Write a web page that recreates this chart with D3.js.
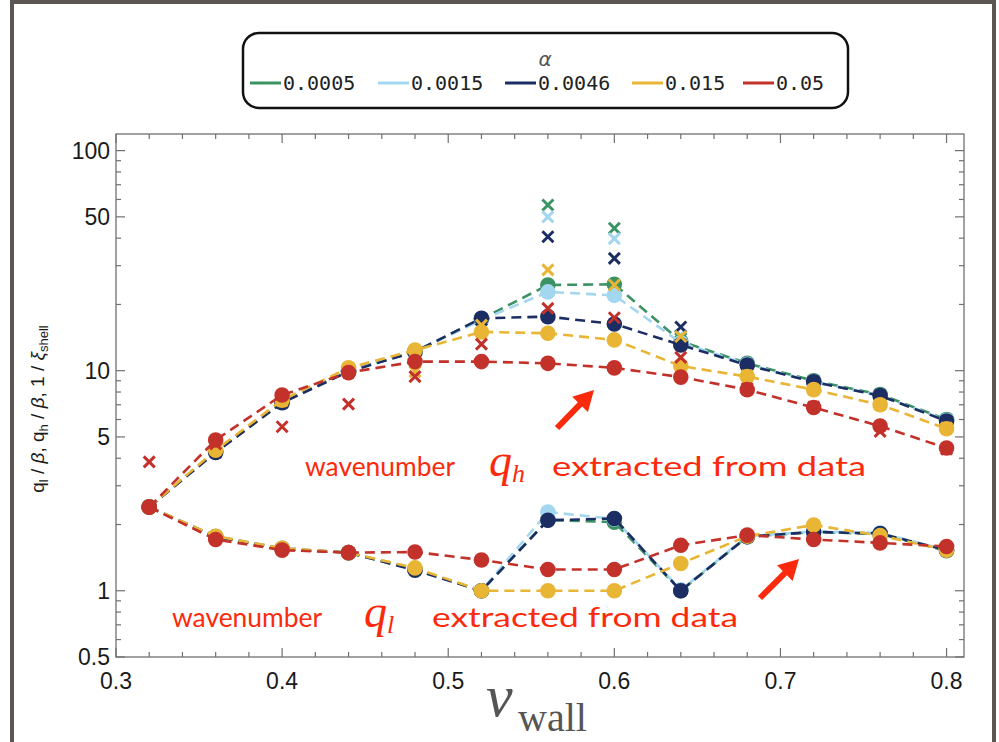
<!DOCTYPE html>
<html>
<head>
<meta charset="utf-8">
<script src="https://cdn.jsdelivr.net/npm/d3@7"></script>
<style>
  html, body { margin: 0; padding: 0; background: #fff; }
  svg { display: block; }
</style>
</head>
<body>
<script>
// v_wall samples
const vWall = [0.32, 0.36, 0.40, 0.44, 0.48, 0.52, 0.56, 0.60, 0.64, 0.68, 0.72, 0.76, 0.80];

const alphaLabels = ["0.0005", "0.0015", "0.0046", "0.015", "0.05"];
const alphaColors = ["#3b9263", "#a3d6ef", "#1b2d63", "#e9b534", "#c3312b"];

// q_h / beta (upper branch)
const qh0005 = [2.4, 4.3, 7.2, 10.0, 12.2, 17.2, 24.5, 24.7, 13.6, 10.8, 9.0, 7.8, 6.0];
const qh0015 = [2.4, 4.3, 7.2, 10.0, 12.2, 17.0, 22.8, 22.0, 13.4, 10.7, 8.9, 7.7, 5.95];
const qh0046 = [2.4, 4.25, 7.15, 9.9, 12.2, 17.3, 17.6, 16.3, 13.1, 10.6, 8.9, 7.7, 5.9];
const qh015 = [2.4, 4.35, 7.35, 10.3, 12.4, 15.0, 14.8, 13.8, 10.5, 9.4, 8.2, 7.0, 5.45];
const qh05 = [2.4, 4.84, 7.75, 9.8, 11.0, 11.0, 10.8, 10.3, 9.35, 8.2, 6.8, 5.6, 4.45];

// q_l / beta (lower branch)
const ql0005 = [2.4, 1.76, 1.56, 1.49, 1.25, 1.0, 2.1, 2.05, 1.0, 1.76, 1.85, 1.81, 1.52];
const ql0015 = [2.4, 1.77, 1.56, 1.49, 1.25, 1.0, 2.28, 2.12, 1.01, 1.77, 1.86, 1.83, 1.53];
const ql0046 = [2.4, 1.76, 1.55, 1.49, 1.24, 1.0, 2.09, 2.13, 1.0, 1.76, 1.85, 1.82, 1.53];
const ql015 = [2.4, 1.77, 1.56, 1.49, 1.27, 1.0, 1.0, 1.0, 1.33, 1.77, 1.99, 1.78, 1.53];
const ql05 = [2.4, 1.71, 1.53, 1.49, 1.50, 1.38, 1.25, 1.25, 1.61, 1.79, 1.71, 1.65, 1.59];

// 1 / xi_shell (crosses)
const xi0005 = [2.4, 4.3, 7.2, 10.0, 12.2, 17.2, 56.6, 44.4, 14.0, 10.8, 9.0, 7.8, 6.0];
const xi0015 = [2.4, 4.3, 7.2, 10.0, 12.2, 17.0, 50.0, 39.8, 14.5, 10.7, 8.9, 7.7, 5.95];
const xi0046 = [2.4, 4.25, 7.15, 9.9, 12.2, 17.0, 40.6, 32.4, 15.8, 10.6, 8.9, 7.7, 5.9];
const xi015 = [2.4, 4.4, 7.3, 10.1, 9.9, 16.1, 28.7, 24.5, 14.3, 9.5, 8.2, 7.0, 5.5];
const xi05 = [3.85, 4.65, 5.56, 7.05, 9.4, 13.2, 19.2, 17.4, 11.5, 8.3, 6.85, 5.3, 4.4];

const xMajor = [0.3, 0.4, 0.5, 0.6, 0.7, 0.8];
const yMajor = [0.5, 1, 5, 10, 50, 100];
const yMinor = [0.6, 0.7, 0.8, 0.9, 2, 3, 4, 6, 7, 8, 9, 20, 30, 40, 60, 70, 80, 90];

const series = alphaLabels.map((a, i) => ({
  alpha: a,
  color: alphaColors[i],
  qh: [qh0005, qh0015, qh0046, qh015, qh05][i],
  ql: [ql0005, ql0015, ql0046, ql015, ql05][i],
  xi: [xi0005, xi0015, xi0046, xi015, xi05][i]
}));

const width = 999, height = 742;
const pLeft = 116, pRight = 964, pTop = 134, pBottom = 657;

const x = d3.scaleLinear().domain([0.3, 0.8105]).range([pLeft, pRight]);
const y = d3.scaleLog().domain([0.5, 119]).range([pBottom, pTop]);

const svg = d3.select("body").append("svg")
  .attr("width", width)
  .attr("height", height)
  .attr("viewBox", [0, 0, width, height]);

// outer grey frame
svg.append("rect")
  .attr("x", 12).attr("y", 2)
  .attr("width", 982).attr("height", 800)
  .attr("fill", "none")
  .attr("stroke", "#5b5652")
  .attr("stroke-width", 4);

// legend
const legend = svg.append("g");
legend.append("rect")
  .attr("x", 243).attr("y", 33)
  .attr("width", 605).attr("height", 75)
  .attr("rx", 16)
  .attr("fill", "#fff")
  .attr("stroke", "#111")
  .attr("stroke-width", 2.5);
legend.append("text")
  .attr("x", 545).attr("y", 66)
  .attr("text-anchor", "middle")
  .attr("font-family", "DejaVu Sans")
  .attr("font-style", "italic")
  .attr("font-size", 20)
  .attr("fill", "#555")
  .text("α");
const legendX = [250, 378, 505, 632, 743];
const item = legend.selectAll("g.item")
  .data(series)
  .join("g")
  .attr("class", "item")
  .attr("transform", (d, i) => `translate(${legendX[i]},83)`);
item.append("line")
  .attr("x1", 0).attr("x2", 31)
  .attr("stroke", d => d.color)
  .attr("stroke-width", 3);
item.append("text")
  .attr("x", 33).attr("dy", "0.35em")
  .attr("font-family", "DejaVu Sans Mono")
  .attr("font-size", 20)
  .attr("fill", "#222")
  .text(d => d.alpha);

// axes frame and ticks
const axes = svg.append("g").attr("stroke", "#707070");
axes.append("rect")
  .attr("x", pLeft).attr("y", pTop)
  .attr("width", pRight - pLeft).attr("height", pBottom - pTop)
  .attr("fill", "none")
  .attr("stroke-width", 1.3);

const xTicks = d3.range(0.30, 0.811, 0.02).map(v => +v.toFixed(2));
xTicks.forEach(v => {
  const major = xMajor.some(m => Math.abs(m - v) < 1e-6);
  const len = major ? 9 : 5;
  axes.append("line").attr("x1", x(v)).attr("x2", x(v)).attr("y1", pBottom).attr("y2", pBottom - len).attr("stroke-width", 1.2);
  axes.append("line").attr("x1", x(v)).attr("x2", x(v)).attr("y1", pTop).attr("y2", pTop + len).attr("stroke-width", 1.2);
});
yMajor.concat(yMinor).forEach(v => {
  const len = yMajor.includes(v) ? 9 : 5;
  axes.append("line").attr("x1", pLeft).attr("x2", pLeft + len).attr("y1", y(v)).attr("y2", y(v)).attr("stroke-width", 1.2);
  axes.append("line").attr("x1", pRight).attr("x2", pRight - len).attr("y1", y(v)).attr("y2", y(v)).attr("stroke-width", 1.2);
});

svg.append("g")
  .attr("font-family", "Liberation Sans, Arial, sans-serif")
  .attr("font-size", 23)
  .attr("fill", "#1a1a1a")
  .selectAll("text")
  .data(xMajor)
  .join("text")
  .attr("x", d => x(d))
  .attr("y", pBottom + 32)
  .attr("text-anchor", "middle")
  .text(d => d3.format(".1f")(d));

svg.append("g")
  .attr("font-family", "Liberation Sans, Arial, sans-serif")
  .attr("font-size", 23)
  .attr("fill", "#1a1a1a")
  .selectAll("text")
  .data(yMajor)
  .join("text")
  .attr("x", pLeft - 6)
  .attr("y", d => y(d))
  .attr("dy", "0.36em")
  .attr("text-anchor", "end")
  .text(d => d);

// y axis title
const yt = svg.append("text")
  .attr("transform", "translate(44,409) rotate(-90)")
  .attr("text-anchor", "middle")
  .attr("font-family", "Liberation Sans, Arial, sans-serif")
  .attr("font-size", 19)
  .attr("fill", "#1a1a1a");
yt.append("tspan").text("q");
yt.append("tspan").attr("font-size", 13).attr("dy", 4).text("l");
yt.append("tspan").attr("dy", -4).text(" / ");
yt.append("tspan").attr("font-style", "italic").text("β");
yt.append("tspan").text(", q");
yt.append("tspan").attr("font-size", 13).attr("dy", 4).text("h");
yt.append("tspan").attr("dy", -4).text(" / ");
yt.append("tspan").attr("font-style", "italic").text("β");
yt.append("tspan").text(",  1 / ");
yt.append("tspan").attr("font-style", "italic").text("ξ");
yt.append("tspan").attr("font-size", 13).attr("dy", 4).text("shell");

// x axis title
const xt = svg.append("text")
  .attr("font-family", "Liberation Serif, Times New Roman, serif")
  .attr("fill", "#555");
xt.append("tspan").attr("x", 486).attr("y", 716).attr("font-style", "italic").attr("font-size", 60).text("v");
xt.append("tspan").attr("x", 518).attr("y", 731).attr("font-size", 40).text("wall");

// series
const line = d3.line().x(d => x(d[0])).y(d => y(d[1]));
const plot = svg.append("g");
series.forEach(s => {
  const g = plot.append("g");
  [s.qh, s.ql].forEach(vals => {
    const pts = vWall.map((v, i) => [v, vals[i]]);
    g.append("path")
      .attr("d", line(pts))
      .attr("fill", "none")
      .attr("stroke", s.color)
      .attr("stroke-width", 2.6)
      .attr("stroke-dasharray", "10,6");
    g.selectAll(null)
      .data(pts)
      .join("circle")
      .attr("cx", d => x(d[0]))
      .attr("cy", d => y(d[1]))
      .attr("r", 7.8)
      .attr("fill", s.color);
  });
  const cs = 5.5;
  g.selectAll(null)
    .data(vWall.map((v, i) => [v, s.xi[i]]))
    .join("path")
    .attr("d", d => {
      const cx = x(d[0]), cy = y(d[1]);
      return `M${cx - cs},${cy - cs}L${cx + cs},${cy + cs}M${cx - cs},${cy + cs}L${cx + cs},${cy - cs}`;
    })
    .attr("stroke", s.color)
    .attr("stroke-width", 3)
    .attr("fill", "none");
});

// annotations
const red = "#fb2a0c";
function note(x0, yb, sub, xq, xe, le) {
  const g = svg.append("g").attr("fill", red);
  g.append("text").attr("x", x0).attr("y", yb)
    .attr("font-family", "Lato, Open Sans, sans-serif").attr("font-size", 27)
    .attr("textLength", 150).attr("lengthAdjust", "spacingAndGlyphs")
    .text("wavenumber");
  const q = g.append("text").attr("x", xq).attr("y", yb)
    .attr("font-family", "Liberation Serif, serif").attr("font-style", "italic");
  q.append("tspan").attr("font-size", 46).text("q");
  q.append("tspan").attr("font-size", 26).attr("dy", 6).text(sub);
  g.append("text").attr("x", xe).attr("y", yb)
    .attr("font-family", "Lato, Open Sans, sans-serif").attr("font-size", 27)
    .attr("textLength", le).attr("lengthAdjust", "spacingAndGlyphs")
    .text("extracted from data");
}
note(305, 476, "h", 489, 552, 314);
note(172, 627, "l", 364, 432, 306);

function arrow(x1, y1, x2, y2) {
  const a = Math.atan2(y2 - y1, x2 - x1);
  const hl = 20, hw = 11, sw = 3;
  const bx = x2 - hl * Math.cos(a), by = y2 - hl * Math.sin(a);
  const nx = -Math.sin(a), ny = Math.cos(a);
  const p = [
    [x1 + nx * sw, y1 + ny * sw],
    [bx + nx * sw, by + ny * sw],
    [bx + nx * hw, by + ny * hw],
    [x2, y2],
    [bx - nx * hw, by - ny * hw],
    [bx - nx * sw, by - ny * sw],
    [x1 - nx * sw, y1 - ny * sw]
  ];
  svg.append("path").attr("d", "M" + p.join("L") + "Z").attr("fill", red);
}
arrow(557, 428, 594, 390);
arrow(760, 598, 799, 559);
</script>
</body>
</html>
